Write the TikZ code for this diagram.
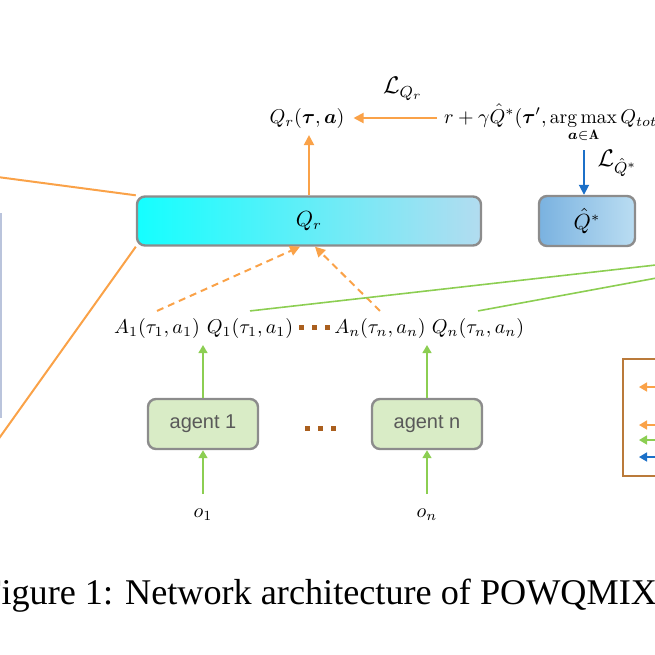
\documentclass[tikz,border=0pt]{standalone}
\usepackage{amsmath,amsfonts,amssymb}
\usepackage{fontspec}
\usepackage{tikz}
\usetikzlibrary{arrows.meta}
\newfontfamily\captionfont{Liberation Serif}
\newfontfamily\agentfont{Liberation Sans}

\definecolor{qorange}{RGB}{250,162,72}
\definecolor{qgreen}{RGB}{140,206,82}
\definecolor{qblue}{RGB}{28,112,200}
\definecolor{qbrown}{RGB}{186,122,58}
\definecolor{dotbrown}{RGB}{170,95,30}
\definecolor{qgrey}{RGB}{140,140,140}
\definecolor{agentfill}{RGB}{217,236,198}
\definecolor{qcyan}{RGB}{20,255,255}
\definecolor{qpale}{RGB}{178,220,240}
\definecolor{qstarleft}{RGB}{122,178,224}
\definecolor{qstarright}{RGB}{186,221,242}
\definecolor{lavline}{RGB}{186,196,220}

\tikzset{
    netbox/.style={draw=qgrey, line width=1.2pt, rounded corners=4pt},
    agentbox/.style={netbox, fill=agentfill, minimum width=55pt, minimum height=25pt,
        font=\agentfont\fontsize{10}{12}\selectfont, text=black!65},
    orline/.style={draw=qorange, line width=1pt},
    orarrow/.style={orline, -{Triangle[length=5pt,width=5pt]}},
    grline/.style={draw=qgreen, line width=0.8pt},
    grarrow/.style={grline, -{Triangle[length=4pt,width=4.5pt]}},
    bluearrow/.style={draw=qblue, line width=0.9pt, -{Triangle[length=5pt,width=5pt]}},
    losslabel/.style={text=black, font=\fontsize{12}{14}\selectfont},
}

\begin{document}
\begin{tikzpicture}[x=0.5pt, y=-0.5pt, font=\fontsize{9.8}{11}\selectfont]
    \useasboundingbox (0,0) rectangle (655,655);
    \clip (0,0) rectangle (655,655);

    % Networks
    \node[netbox, left color=qcyan, right color=qpale, minimum width=172pt, minimum height=24.5pt, font=\fontsize{10.5}{12}\selectfont] (qr) at (309,221) {$Q_r$};
    \node[netbox, left color=qstarleft, right color=qstarright, minimum width=48pt, minimum height=25pt, font=\fontsize{10.5}{12}\selectfont] (qstar) at (587,221) {$\hat{Q}^{*}$};
    \node[agentbox] (ag1) at (203,424) {agent 1};
    \node[agentbox] (agn) at (427,424) {agent n};

    % Targets
    \node[anchor=base] (qrout) at (307,123) {$Q_r(\boldsymbol{\tau},\boldsymbol{a})$};
    \node[anchor=base west] (target) at (437,123) {$r+\gamma\hat{Q}^{*}(\boldsymbol{\tau}',\mathop{\arg\max}\limits_{\boldsymbol{a}\in\mathbf{A}} Q_{tot}$};
    \coordinate (amax) at (584,150);

    % Agent outputs
    \node[anchor=base] (a1) at (157,333) {$A_1(\tau_1,a_1)$};
    \node[anchor=base] (q1) at (250,333) {$Q_1(\tau_1,a_1)$};
    \node[anchor=base] (an) at (380,333) {$A_n(\tau_n,a_n)$};
    \node[anchor=base] (qn) at (478,333) {$Q_n(\tau_n,a_n)$};
    \foreach \x in {301,314,327} {
            \fill[dotbrown] (\x-2.5,324.5) rectangle ++(5,5);
        }
    \foreach \x in {307,320,333} {
            \fill[dotbrown] (\x-2.5,425.5) rectangle ++(5,5);
        }
    \node (o1) at (203,515) {$o_1$};
    \node (on) at (427,515) {$o_n$};

    % Losses
    \draw[orarrow, shorten >=1pt] (target.west |- qrout.east) -- (qrout.east)
        node[pos=0.4, above=5pt, losslabel] (lqr) {$\mathcal{L}_{Q_r}$};
    \draw[bluearrow] (amax) -- (amax |- qstar.north)
        node[pos=0.3, right=3pt, losslabel] (lqstar) {$\mathcal{L}_{\hat{Q}^{*}}$};
    \draw[orarrow] (qr.north) -- (qr.north |- qrout.south);

    % Into the networks
    \draw[orarrow, dash pattern=on 3.5pt off 2.5pt] (a1.north) -- ([xshift=-4.5pt]qr.south);
    \draw[orarrow, dash pattern=on 3.5pt off 2.5pt] (an.north) -- ([xshift=3pt]qr.south);
    \coordinate (mixq1) at (700,260);
    \coordinate (mixqn) at (700,270);
    \draw[grline] (q1.north) -- (mixq1);
    \draw[grline] (qn.north) -- (mixqn);
    \draw[grarrow] (ag1.north) -- (ag1.north |- a1.south);
    \draw[grarrow] (agn.north) -- (agn.north |- an.south);
    \draw[grarrow, shorten <=4pt] (o1.north) -- (ag1.south);
    \draw[grarrow, shorten <=4pt] (on.north) -- (agn.south);

    % Left part
    \coordinate (mixtop) at (-10,176);
    \coordinate (mixbot) at (-10,451);
    \draw[lavline, line width=0.8pt] (1,213) -- (1,418);
    \draw[orline] (qr.north west) -- (mixtop);
    \draw[orline] (qr.south west) -- (mixbot);

    % Legend
    \draw[qbrown, line width=1.2pt] (623,359) rectangle (720,476);
    \foreach \y/\c in {387/qorange, 425/qorange, 440/qgreen, 457/qblue} {
            \draw[\c, line width=0.8pt, -{Triangle[length=4pt,width=4.5pt]}] (690,\y) -- (639,\y);
        }

    % Caption
    \node[anchor=base west, inner sep=0pt, font=\captionfont\fontsize{18.1}{22}\selectfont] (caption) at (-19,604) {Figure 1: Network architecture of POWQMIX};
\end{tikzpicture}
\end{document}
